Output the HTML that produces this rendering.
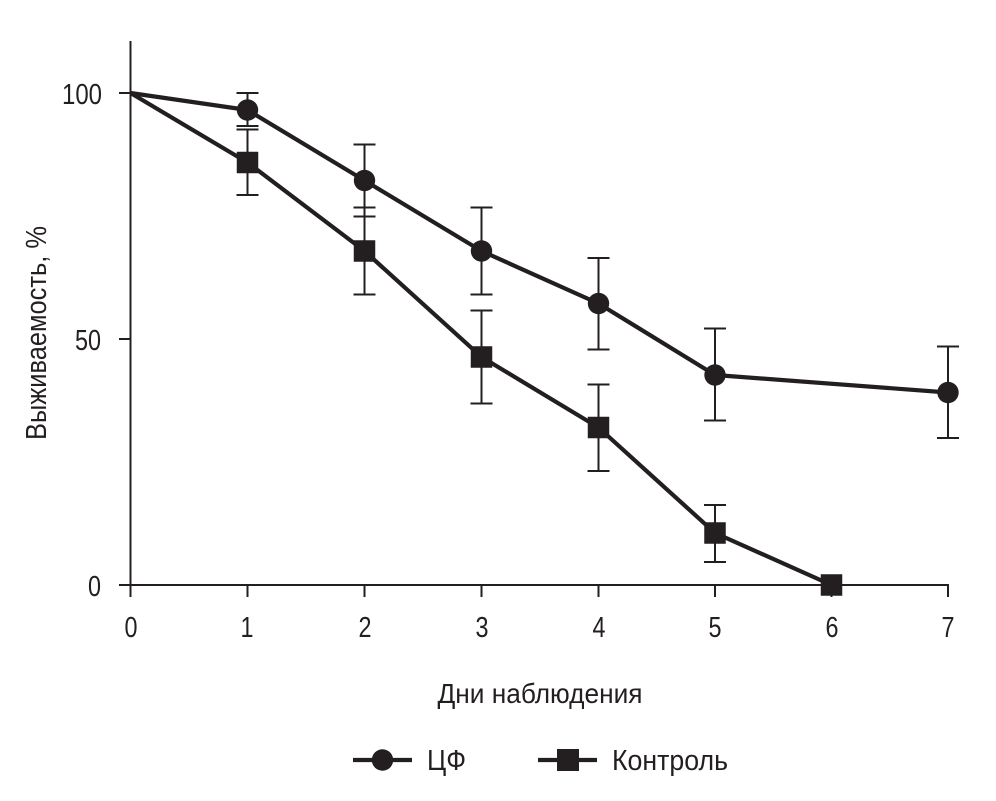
<!DOCTYPE html>
<html>
<head>
<meta charset="utf-8">
<style>
  html, body { margin: 0; padding: 0; background: #ffffff; }
  svg { display: block; }
  text { font-family: "Liberation Sans", "DejaVu Sans", sans-serif; fill: #231f20; }
</style>
</head>
<body>
<svg width="996" height="801" viewBox="0 0 996 801" xmlns="http://www.w3.org/2000/svg">
  <rect x="0" y="0" width="996" height="801" fill="#ffffff"/>

  <!-- axes -->
  <g stroke="#231f20" stroke-width="2" fill="none">
    <line x1="130.5" y1="41" x2="130.5" y2="586"/>
    <line x1="119" y1="585" x2="949" y2="585"/>
    <!-- y ticks -->
    <line x1="119" y1="93" x2="130" y2="93"/>
    <line x1="119" y1="339" x2="130" y2="339"/>
    <!-- x ticks -->
    <line x1="130.5" y1="585" x2="130.5" y2="597"/>
    <line x1="247.5" y1="585" x2="247.5" y2="597"/>
    <line x1="364.5" y1="585" x2="364.5" y2="597"/>
    <line x1="481.5" y1="585" x2="481.5" y2="597"/>
    <line x1="598.5" y1="585" x2="598.5" y2="597"/>
    <line x1="715" y1="585" x2="715" y2="597"/>
    <line x1="831.5" y1="585" x2="831.5" y2="597"/>
    <line x1="948" y1="585" x2="948" y2="597"/>
  </g>

  <!-- y tick labels -->
  <text x="102" y="104" font-size="29" text-anchor="end" textLength="40" lengthAdjust="spacingAndGlyphs">100</text>
  <text x="101" y="350" font-size="29" text-anchor="end" textLength="26" lengthAdjust="spacingAndGlyphs">50</text>
  <text x="101" y="596" font-size="29" text-anchor="end" textLength="13" lengthAdjust="spacingAndGlyphs">0</text>

  <!-- x tick labels -->
  <g font-size="29" text-anchor="middle">
    <text x="131" y="637" textLength="13" lengthAdjust="spacingAndGlyphs">0</text>
    <text x="247" y="637" textLength="13" lengthAdjust="spacingAndGlyphs">1</text>
    <text x="365" y="637" textLength="13" lengthAdjust="spacingAndGlyphs">2</text>
    <text x="482" y="637" textLength="13" lengthAdjust="spacingAndGlyphs">3</text>
    <text x="599" y="637" textLength="13" lengthAdjust="spacingAndGlyphs">4</text>
    <text x="715" y="637" textLength="13" lengthAdjust="spacingAndGlyphs">5</text>
    <text x="832" y="637" textLength="13" lengthAdjust="spacingAndGlyphs">6</text>
    <text x="948" y="637" textLength="13" lengthAdjust="spacingAndGlyphs">7</text>
  </g>

  <!-- axis titles -->
  <text x="540" y="703" font-size="28" text-anchor="middle" textLength="205" lengthAdjust="spacingAndGlyphs">Дни наблюдения</text>
  <text transform="translate(46,333) rotate(-90)" x="0" y="0" font-size="29" text-anchor="middle" textLength="214" lengthAdjust="spacingAndGlyphs">Выживаемость, %</text>

  <!-- error bars -->
  <g stroke="#231f20" stroke-width="2" fill="none">
    <!-- CF -->
    <line x1="247.5" y1="93" x2="247.5" y2="126"/>
    <line x1="236.5" y1="93" x2="258.5" y2="93"/>
    <line x1="236.5" y1="126" x2="258.5" y2="126"/>

    <line x1="364.5" y1="144.5" x2="364.5" y2="216.5"/>
    <line x1="353.5" y1="144.5" x2="375.5" y2="144.5"/>
    <line x1="353.5" y1="216.5" x2="375.5" y2="216.5"/>

    <line x1="481.5" y1="207.5" x2="481.5" y2="294.5"/>
    <line x1="470.5" y1="207.5" x2="492.5" y2="207.5"/>
    <line x1="470.5" y1="294.5" x2="492.5" y2="294.5"/>

    <line x1="598.5" y1="258" x2="598.5" y2="349.5"/>
    <line x1="587.5" y1="258" x2="609.5" y2="258"/>
    <line x1="587.5" y1="349.5" x2="609.5" y2="349.5"/>

    <line x1="715" y1="328.5" x2="715" y2="420.5"/>
    <line x1="704" y1="328.5" x2="726" y2="328.5"/>
    <line x1="704" y1="420.5" x2="726" y2="420.5"/>

    <line x1="948" y1="346.5" x2="948" y2="438"/>
    <line x1="937" y1="346.5" x2="959" y2="346.5"/>
    <line x1="937" y1="438" x2="959" y2="438"/>

    <!-- Control -->
    <line x1="247.5" y1="129.5" x2="247.5" y2="195"/>
    <line x1="236.5" y1="129.5" x2="258.5" y2="129.5"/>
    <line x1="236.5" y1="195" x2="258.5" y2="195"/>

    <line x1="364.5" y1="207.5" x2="364.5" y2="294.5"/>
    <line x1="353.5" y1="207.5" x2="375.5" y2="207.5"/>
    <line x1="353.5" y1="294.5" x2="375.5" y2="294.5"/>

    <line x1="481.5" y1="310.5" x2="481.5" y2="403.5"/>
    <line x1="470.5" y1="310.5" x2="492.5" y2="310.5"/>
    <line x1="470.5" y1="403.5" x2="492.5" y2="403.5"/>

    <line x1="598.5" y1="384.5" x2="598.5" y2="471"/>
    <line x1="587.5" y1="384.5" x2="609.5" y2="384.5"/>
    <line x1="587.5" y1="471" x2="609.5" y2="471"/>

    <line x1="715" y1="505" x2="715" y2="562"/>
    <line x1="704" y1="505" x2="726" y2="505"/>
    <line x1="704" y1="562" x2="726" y2="562"/>
  </g>

  <!-- series lines -->
  <g stroke="#231f20" stroke-width="4.2" fill="none" stroke-linejoin="round">
    <polyline points="130.5,93 247.5,110 364.5,180.5 481.5,251 598.5,303.5 715,375 948,392.5"/>
    <polyline points="130.5,93 247.5,162.5 364.5,251 481.5,357 598.5,427.5 715,533 831.5,585"/>
  </g>

  <!-- markers -->
  <g fill="#231f20">
    <circle cx="247.5" cy="110" r="10.7"/>
    <circle cx="364.5" cy="180.5" r="10.7"/>
    <circle cx="481.5" cy="251" r="10.7"/>
    <circle cx="598.5" cy="303.5" r="10.7"/>
    <circle cx="715" cy="375" r="10.7"/>
    <circle cx="948" cy="392.5" r="10.7"/>

    <rect x="236.75" y="151.75" width="21.5" height="21.5"/>
    <rect x="353.75" y="240.25" width="21.5" height="21.5"/>
    <rect x="470.75" y="346.25" width="21.5" height="21.5"/>
    <rect x="587.75" y="416.75" width="21.5" height="21.5"/>
    <rect x="704.25" y="522.25" width="21.5" height="21.5"/>
    <rect x="820.75" y="574.25" width="21.5" height="21.5"/>
  </g>

  <!-- legend -->
  <g stroke="#231f20" stroke-width="4.2">
    <line x1="353" y1="760" x2="412" y2="760"/>
    <line x1="538" y1="760" x2="597" y2="760"/>
  </g>
  <circle cx="382.5" cy="760" r="10.7" fill="#231f20"/>
  <rect x="557" y="749" width="22" height="22" fill="#231f20"/>
  <text x="427" y="770" font-size="29" textLength="39" lengthAdjust="spacingAndGlyphs">ЦФ</text>
  <text x="612" y="770" font-size="29" textLength="116" lengthAdjust="spacingAndGlyphs">Контроль</text>
</svg>
</body>
</html>
